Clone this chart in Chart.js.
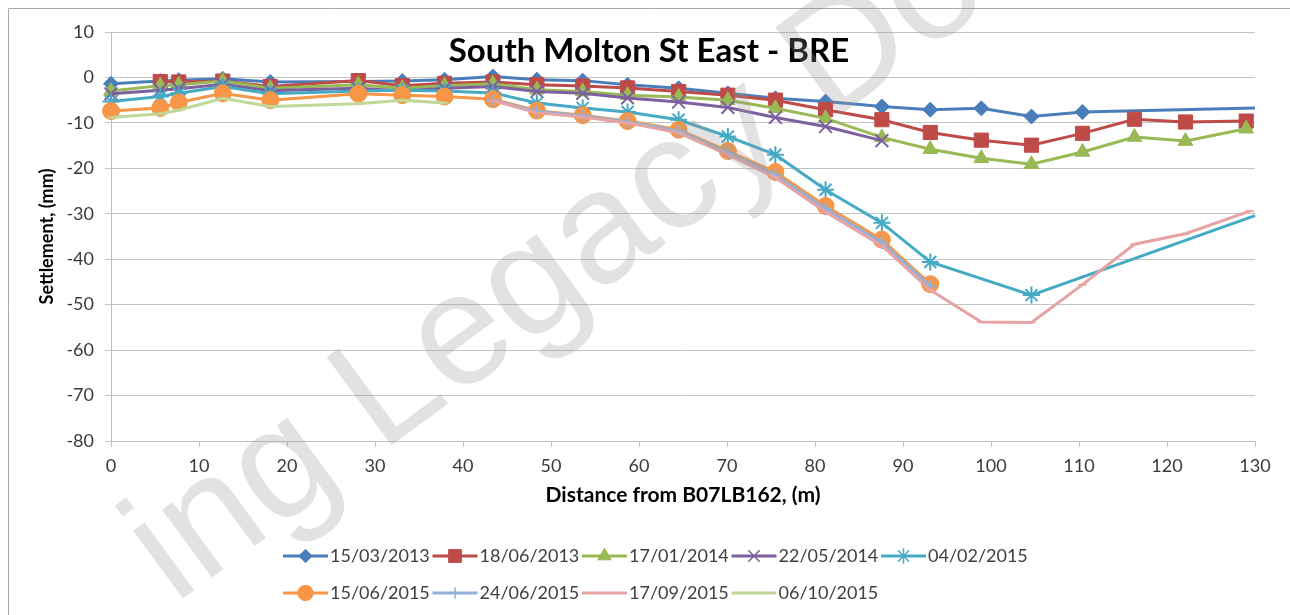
<!DOCTYPE html>
<html>
<head>
<meta charset="utf-8">
<script src="https://cdn.jsdelivr.net/npm/chart.js@4.4.1/dist/chart.umd.min.js"></script>
<style>
  html, body { margin: 0; padding: 0; background: #fff; }
  #wrap { width: 1290px; height: 615px; }
</style>
</head>
<body>
<div id="wrap"><canvas id="c" width="1290" height="615"></canvas></div>
<script>
// ---------- DATA ----------
const chartTitle = 'South Molton St East - BRE';
const xAxisTitle = 'Distance from B07LB162, (m)';
const yAxisTitle = 'Settlement, (mm)';
const watermarkText = 'ing Legacy Document';
const xTicks = [0, 10, 20, 30, 40, 50, 60, 70, 80, 90, 100, 110, 120, 130];
const yTicks = [10, 0, -10, -20, -30, -40, -50, -60, -70, -80];

const seriesLabels = ['15/03/2013', '18/06/2013', '17/01/2014', '22/05/2014', '04/02/2015',
                      '15/06/2015', '24/06/2015', '17/09/2015', '06/10/2015'];

const x_15_03_2013 = [0, 5.6, 7.7, 12.7, 18.1, 28.1, 33.1, 37.9, 43.4, 48.4, 53.6, 58.7, 64.5, 70.1, 75.5, 81.2, 87.6, 93.1, 98.9, 104.6, 110.4, 130];
const y_15_03_2013 = [-1.4, -0.8, -0.6, -0.3, -1.0, -0.9, -0.8, -0.5, 0.2, -0.5, -0.7, -1.6, -2.4, -3.5, -4.6, -5.3, -6.4, -7.1, -6.8, -8.6, -7.6, -6.7];

const x_18_06_2013 = [5.6, 7.7, 12.7, 18.1, 28.1, 33.1, 37.9, 43.4, 48.4, 53.6, 58.7, 64.5, 70.1, 75.5, 81.2, 87.6, 93.1, 98.9, 104.6, 110.4, 116.3, 122.1, 129.0];
const y_18_06_2013 = [-0.9, -1.0, -0.8, -2.0, -0.7, -1.8, -1.3, -1.0, -1.6, -1.9, -2.3, -3.1, -3.9, -5.0, -7.1, -9.3, -12.1, -13.8, -14.9, -12.3, -9.2, -9.8, -9.6];

const x_17_01_2014 = [0, 5.6, 7.7, 12.7, 18.1, 28.1, 33.1, 37.9, 43.4, 48.4, 53.6, 58.7, 64.5, 70.1, 75.5, 81.2, 87.6, 93.1, 98.9, 104.6, 110.4, 116.3, 122.1, 129.0];
const y_17_01_2014 = [-3.0, -1.8, -1.6, -0.8, -2.4, -1.6, -2.4, -1.8, -1.4, -2.7, -3.1, -3.9, -4.3, -5.0, -6.8, -9.0, -13.2, -15.8, -17.8, -19.1, -16.4, -13.1, -14.0, -11.3];

const x_22_05_2014 = [0, 5.6, 7.7, 12.7, 18.1, 28.1, 33.1, 37.9, 43.4, 48.4, 53.6, 58.7, 64.5, 70.1, 75.5, 81.2, 87.6];
const y_22_05_2014 = [-3.6, -2.8, -2.5, -1.5, -2.9, -2.4, -3.0, -2.4, -2.0, -3.1, -3.5, -4.5, -5.4, -6.6, -8.8, -10.8, -13.9];

const x_04_02_2015 = [0, 5.6, 7.7, 12.7, 18.1, 28.1, 33.1, 37.9, 43.4, 48.4, 53.6, 58.7, 64.5, 70.1, 75.5, 81.2, 87.6, 93.1, 104.6, 130];
const y_04_02_2015 = [-5.3, -4.2, -3.5, -2.0, -3.6, -3.0, -2.8, -3.0, -3.4, -5.6, -6.7, -7.6, -9.3, -13.0, -17.0, -24.7, -32.0, -40.6, -47.9, -30.4];

const x_15_06_2015 = [0, 5.6, 7.7, 12.7, 18.1, 28.1, 33.1, 37.9, 43.4, 48.4, 53.6, 58.7, 64.5, 70.1, 75.5, 81.2, 87.6, 93.1];
const y_15_06_2015 = [-7.4, -6.7, -5.5, -3.5, -5.0, -3.6, -3.9, -4.2, -4.8, -7.3, -8.3, -9.6, -11.5, -16.2, -20.8, -28.3, -35.7, -45.5];

const x_24_06_2015 = [43.4, 48.4, 53.6, 58.7, 64.5, 70.1, 75.5, 81.2, 87.6, 93.1];
const y_24_06_2015 = [-5.0, -7.5, -8.4, -9.8, -11.8, -16.6, -21.4, -28.9, -36.3, -45.9];

const x_17_09_2015 = [43.4, 48.4, 53.6, 58.7, 64.5, 70.1, 75.5, 81.2, 87.6, 93.1, 98.9, 104.6, 110.4, 116.3, 122.1, 129.4];
const y_17_09_2015 = [-5.1, -7.8, -8.7, -10.0, -12.2, -17.0, -22.0, -29.6, -37.0, -46.8, -53.8, -53.9, -45.6, -36.7, -34.4, -29.4];

const x_06_10_2015 = [0, 5.6, 7.7, 12.7, 18.1, 28.1, 33.1, 37.9];
const y_06_10_2015 = [-8.8, -8.0, -7.2, -4.6, -6.4, -5.8, -5.0, -5.6];

// ---------- STYLE ----------
const FONT = 'Lato';
const seriesX = [x_15_03_2013, x_18_06_2013, x_17_01_2014, x_22_05_2014, x_04_02_2015, x_15_06_2015, x_24_06_2015, x_17_09_2015, x_06_10_2015];
const seriesY = [y_15_03_2013, y_18_06_2013, y_17_01_2014, y_22_05_2014, y_04_02_2015, y_15_06_2015, y_24_06_2015, y_17_09_2015, y_06_10_2015];
const colors = ['#4A7EBB', '#BE4B48', '#98B954', '#7D60A0', '#46AAC5', '#F79646', '#92B0DA', '#E6A3A3', '#BFD898'];
const styles = ['rectRot', 'rect', 'triangle', 'crossRot', 'star', 'circle', 'cross', 'line', 'line'];
const radii  = [7.5, 10, 8.5, 9, 8.5, 8.5, 6.5, 4, 4];
const hideLastMarker = [true, false, false, false, true, false, false, false, false];
const thinStyles = ['crossRot', 'star', 'cross', 'line'];

const datasets = seriesLabels.map((lab, i) => ({
  label: lab,
  data: seriesX[i].map((xv, k) => ({x: xv, y: seriesY[i][k]})),
  borderColor: colors[i],
  backgroundColor: colors[i],
  borderWidth: 3,
  pointStyle: styles[i],
  pointRadius: ctx => (hideLastMarker[i] && ctx.dataIndex === seriesX[i].length - 1) ? 0 : radii[i],
  pointBorderWidth: thinStyles.includes(styles[i]) ? 2 : 1,
  pointBorderColor: colors[i],
  pointBackgroundColor: colors[i],
  tension: 0,
  clip: false,
  order: seriesLabels.length - 1 - i
}));

const decorPlugin = {
  id: 'decor',
  beforeDraw(chart) {
    const ctx = chart.ctx;
    ctx.save();
    ctx.fillStyle = '#ffffff';
    ctx.fillRect(0, 0, chart.width, chart.height);
    ctx.strokeStyle = '#A8A8A8';
    ctx.lineWidth = 1;
    ctx.beginPath();
    ctx.moveTo(8.5, 615);
    ctx.lineTo(8.5, 8.5);
    ctx.lineTo(1290, 8.5);
    ctx.stroke();
    ctx.restore();
  },
  afterDraw(chart) {
    const ctx = chart.ctx;
    // Title
    ctx.save();
    ctx.font = 'bold 33px ' + FONT;
    ctx.fillStyle = '#000000';
    ctx.textAlign = 'center';
    ctx.textBaseline = 'alphabetic';
    ctx.fillText(chartTitle, 649, 62);
    ctx.restore();

    // Legend (two rows)
    const ds = chart.data.datasets;
    ctx.save();
    ctx.font = '18px ' + FONT;
    ctx.textBaseline = 'middle';
    ctx.textAlign = 'left';
    ds.forEach((d, i) => {
      const row = i < 5 ? 0 : 1;
      const col = i < 5 ? i : i - 5;
      const x0 = 283 + col * 149.5;
      const y = row === 0 ? 556 : 593;
      ctx.strokeStyle = d.borderColor;
      ctx.lineWidth = 3;
      ctx.beginPath();
      ctx.moveTo(x0, y);
      ctx.lineTo(x0 + 45, y);
      ctx.stroke();
      if (styles[i] !== 'line') {
        ctx.fillStyle = d.backgroundColor;
        ctx.strokeStyle = d.borderColor;
        ctx.lineWidth = thinStyles.includes(styles[i]) ? 1.5 : 1;
        Chart.helpers.drawPoint(ctx, {pointStyle: styles[i], radius: radii[i] * 0.9, rotation: 0, borderWidth: ctx.lineWidth}, x0 + 22.5, y);
      }
      ctx.fillStyle = '#404040';
      ctx.fillText(d.label, x0 + 47, y);
    });
    ctx.restore();

    // Watermark
    ctx.save();
    ctx.font = '159px "Liberation Sans"';
    const pre = ctx.measureText('ing ').width;
    ctx.translate(381, 453);
    ctx.rotate(-0.634);
    ctx.fillStyle = 'rgba(150,150,150,0.28)';
    ctx.textBaseline = 'alphabetic';
    ctx.textAlign = 'left';
    ctx.fillText(watermarkText, -pre, 0);
    ctx.restore();
  }
};

new Chart(document.getElementById('c'), {
  type: 'line',
  data: { datasets },
  options: {
    responsive: false,
    animation: false,
    devicePixelRatio: 1,
    layout: { padding: { left: 8, top: 32, right: 35, bottom: 0 } },
    plugins: {
      legend: { display: false },
      title: { display: false },
      tooltip: { enabled: false }
    },
    scales: {
      x: {
        type: 'linear',
        min: xTicks[0],
        max: xTicks[xTicks.length - 1],
        afterBuildTicks: s => { s.ticks = xTicks.map(v => ({value: v})); },
        afterFit: s => { s.height = 174; },
        ticks: { font: { family: FONT, size: 18 }, color: '#3A3A3A', padding: 8, maxRotation: 0 },
        grid: { drawOnChartArea: false, drawTicks: true, tickLength: 6, color: '#BEBEBE' },
        border: { display: true, color: '#BEBEBE', width: 1 },
        title: {
          display: true, text: xAxisTitle,
          font: { family: FONT, size: 21, weight: 'bold' }, color: '#000',
          padding: { top: 0, bottom: 107 }
        }
      },
      y: {
        type: 'linear',
        min: yTicks[yTicks.length - 1],
        max: yTicks[0],
        afterBuildTicks: s => { s.ticks = yTicks.slice().reverse().map(v => ({value: v})); },
        afterFit: s => { s.width = 103; },
        ticks: { font: { family: FONT, size: 18 }, color: '#3A3A3A', padding: 11 },
        grid: { drawOnChartArea: true, drawTicks: true, tickLength: 6, color: '#C4C4C4' },
        border: { display: true, color: '#BEBEBE', width: 1 },
        title: {
          display: true, text: yAxisTitle,
          font: { family: FONT, size: 18, weight: 'bold' }, color: '#000',
          padding: { top: 28, bottom: 0 }
        }
      }
    }
  },
  plugins: [decorPlugin]
});
</script>
</body>
</html>
